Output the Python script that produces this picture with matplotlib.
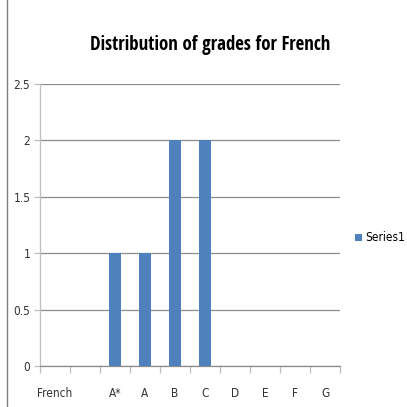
import matplotlib
matplotlib.use("Agg")
import matplotlib.pyplot as plt
from matplotlib.lines import Line2D
from matplotlib import font_manager as fm
import numpy as np

categories = ["French", "", "A*", "A", "B", "C", "D", "E", "F", "G"]
values = [0, 0, 1, 1, 2, 2, 0, 0, 0, 0]
yticks = [0, 0.5, 1, 1.5, 2, 2.5]
ytick_labels = ["0", "0.5", "1", "1.5", "2", "2.5"]
title = "Distribution of grades for French"
series_name = "Series1"

cond = ("condensed", "semi-condensed", "extra-condensed", "ultra-condensed")
def _w(x):
    return x if isinstance(x, int) else {"normal": 400, "regular": 400, "bold": 700}.get(x, 400)

names = {f.name for f in fm.fontManager.ttflist}
title_narrow = None
for cand in ["Liberation Sans Narrow", "DejaVu Sans Condensed", "Open Sans Condensed",
             "Roboto Condensed"]:
    if cand in names:
        title_narrow = cand
        break
if title_narrow is None:
    title_narrow = "DejaVu Sans"

reg_narrow = None
for f in fm.fontManager.ttflist:
    if f.stretch in cond or "Narrow" in f.name or "Condensed" in f.name:
        if 350 <= _w(f.weight) <= 500 and f.style == "normal":
            reg_narrow = reg_narrow or f.name

label_font = [reg_narrow or "Roboto", "DejaVu Sans"]
title_font = [title_narrow, "DejaVu Sans"]

plt.rcParams['font.family'] = label_font
if reg_narrow:
    plt.rcParams['font.stretch'] = "condensed"

fig = plt.figure(figsize=(4.07, 4.07), dpi=100)
ax = fig.add_axes([40/407, 41/407, 300/407, 282/407])

x = np.arange(len(categories))
bars = ax.bar(x, values, width=0.4, color="#4F81BD", zorder=3, label=series_name)

lab_size = 8.5 if reg_narrow else 7.5
ax.set_xlim(-0.5, len(categories) - 0.5)
ax.set_ylim(0, 2.5)
ax.set_yticks(yticks)
ax.set_yticklabels(ytick_labels, fontsize=lab_size, color="#333333", fontweight="normal")
ax.yaxis.grid(True, color="#8C8C8C", linewidth=0.9, zorder=0)

ax.set_xticks(x)
ax.set_xticklabels(categories, fontsize=lab_size, color="#333333", fontweight="normal")
ax.tick_params(axis="x", length=0, pad=15)
ax.set_xticks(np.arange(-0.5, len(categories)), minor=True)
ax.tick_params(axis="x", which="minor", length=5, color="#BFBFBF", width=0.9)
ax.tick_params(axis="y", length=4, color="#BFBFBF", width=0.9, pad=3)

for s in ["top", "right"]:
    ax.spines[s].set_visible(False)
ax.spines["left"].set_color("#BFBFBF")
ax.spines["bottom"].set_color("#8C8C8C")
ax.spines["left"].set_linewidth(0.9)
ax.spines["bottom"].set_linewidth(0.9)

t = fig.text(210/407, 1 - 45/407, title, ha="center", va="center", fontsize=13.5,
             fontweight="bold", color="#000000", family=title_font, fontstretch="condensed")
fig.canvas.draw()
w = t.get_window_extent().width
t.set_fontsize(13.5 * 240 / w)

leg = ax.legend(handles=[bars], labels=[series_name], loc="center left",
                bbox_to_anchor=(355/407, 1 - 238/407), bbox_transform=fig.transFigure,
                frameon=False, fontsize=lab_size, handlelength=0.6, handleheight=0.6,
                handletextpad=0.3, borderaxespad=0, borderpad=0)
for txt in leg.get_texts():
    txt.set_fontweight("normal")

fig.add_artist(Line2D([7/407, 7/407], [0, 1], transform=fig.transFigure,
                      color="#808080", linewidth=1))

fig.savefig("out.png", dpi=100)
